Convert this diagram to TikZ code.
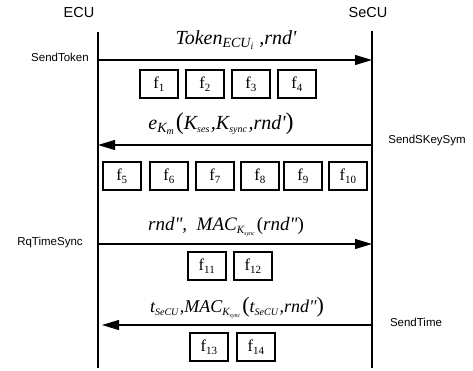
\documentclass[tikz,border=0pt]{standalone}
\usepackage{amsmath}
\usepackage{fontspec}
\setmainfont{Liberation Serif}
\newfontfamily\arialfont{Liberation Sans}
\usetikzlibrary{arrows.meta}
\tikzset{
  lifeline/.style={line width=1.4pt},
  msg/.style={line width=1.2pt,-{Triangle[length=17pt,width=10pt]}},
  fbox/.style={draw,line width=1.6pt,minimum width=38pt,minimum height=28pt,inner sep=0pt,font=\fontsize{16.5}{18}\selectfont},
  actor/.style={font=\arialfont\fontsize{14.5}{16}\selectfont},
  side/.style={font=\arialfont\fontsize{11.5}{13}\selectfont},
  lbl/.style={font=\fontsize{20}{22}\selectfont\itshape},
  lbls/.style={font=\fontsize{18}{20}\selectfont\itshape},
  lblm/.style={font=\fontsize{19}{21}\selectfont\itshape}
}
\newcommand{\fsub}[1]{f\textsubscript{\fontsize{11}{11}\selectfont #1}}
\newcommand{\ti}[1]{\textit{#1}}
\newcommand{\sbx}[2]{$_{\mbox{\fontsize{#1}{#1}\selectfont\itshape #2}}$}
\newcommand{\sq}{\textquotesingle}
\newcommand{\dq}{\textquotedbl}
\begin{document}
\begin{tikzpicture}[x=1pt,y=-1pt]
\useasboundingbox (0,0) rectangle (473,370);
% actors
\node[actor] (ecu) at (79,13) {ECU};
\node[actor] (secu) at (368,13) {SeCU};
% lifelines
\coordinate (lt) at (98,32);
\coordinate (lb) at (98,368);
\coordinate (rt) at (372,31);
\coordinate (rb) at (372,368);
\draw[lifeline] (lt) -- (lb);
\draw[lifeline] (rt) -- (rb);
% message 1
\coordinate (m1a) at (98,60);
\coordinate (m1b) at (372,60);
\draw[msg] (m1a) -- (m1b);
\node[side] (s1) at (60,57) {SendToken};
\node[lbl] (l1) at (236,40) {Token$_{\ti{ECU}_{\ti{i}}}$ ,rnd\sq};
\foreach \i/\x in {1/159,2/205,3/251,4/297}
  \node[fbox] (f\i) at (\x,84) {\fsub{\i}};
% message 2
\coordinate (m2a) at (98,145);
\coordinate (m2b) at (372,145);
\draw[msg] (m2b) -- (m2a);
\node[side] (s2) at (427,141) {SendSKeySym};
\node[lbl] (l2) at (221,124) {e$_{\ti{K}_{\ti{m}}}$\kern1pt{\upshape\fontsize{24}{24}\selectfont(}K\sbx{10}{ses}\kern1pt,K\sbx{10}{sync}\kern1pt,rnd\sq{\upshape\fontsize{24}{24}\selectfont)}};
\foreach \i/\x in {5/122,6/169,7/215,8/260,9/303,10/348}
  \node[fbox] (f\i) at (\x,176) {\fsub{\i}};
% message 3
\coordinate (m3a) at (98,244);
\coordinate (m3b) at (372,244);
\draw[msg] (m3a) -- (m3b);
\node[side] (s3) at (50,243) {RqTimeSync};
\node[lblm] (l3) at (226,227) {rnd\dq, \ MAC$_{\mbox{\fontsize{11}{11}\selectfont\itshape K\sbx{6}{sync}}}$\kern1pt{\upshape(}rnd\dq{\upshape)}};
\foreach \i/\x in {11/207,12/253}
  \node[fbox] (f\i) at (\x,266) {\fsub{\i}};
% message 4
\coordinate (m4a) at (102,325);
\coordinate (m4b) at (372,325);
\draw[msg] (m4b) -- (m4a);
\node[side] (s4) at (416,322) {SendTime};
\node[lbls] (l4) at (237,308) {t\sbx{10}{SeCU}\kern1pt,MAC$_{\mbox{\fontsize{11}{11}\selectfont\itshape K\sbx{6}{sync}}}$\kern1pt{\upshape\fontsize{22}{22}\selectfont(}t\sbx{10}{SeCU}\kern1pt,rnd\dq{\upshape\fontsize{22}{22}\selectfont)}};
\foreach \i/\x in {13/209,14/256}
  \node[fbox] (f\i) at (\x,347) {\fsub{\i}};
\end{tikzpicture}
\end{document}
